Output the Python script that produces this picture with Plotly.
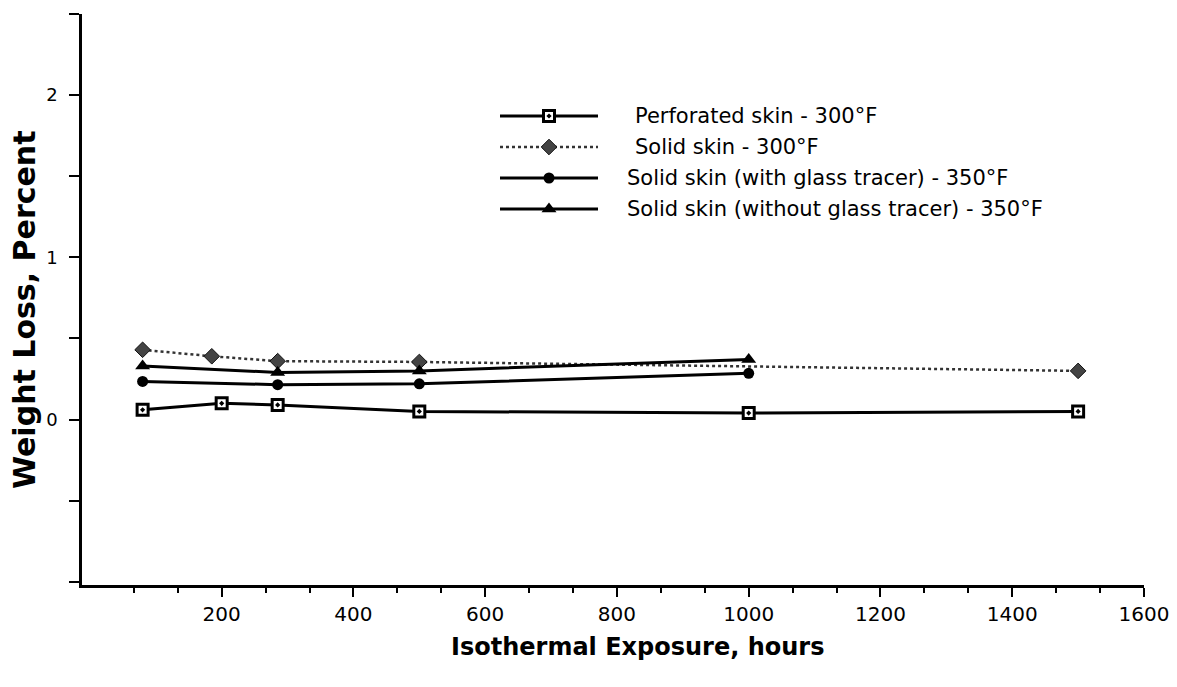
import plotly.graph_objects as go

# ---------------- data ----------------
hours_perf = [80, 200, 285, 500, 1000, 1500]
loss_perf = [0.06, 0.10, 0.09, 0.05, 0.04, 0.05]

hours_solid300 = [80, 185, 285, 500, 1500]
loss_solid300 = [0.43, 0.39, 0.36, 0.355, 0.30]

hours_glass = [80, 285, 500, 1000]
loss_glass = [0.235, 0.215, 0.22, 0.285]

hours_noglass = [80, 285, 500, 1000]
loss_noglass = [0.33, 0.29, 0.30, 0.37]

series_names = [
    "Perforated skin - 300°F",
    "Solid skin - 300°F",
    "Solid skin (with glass tracer) - 350°F",
    "Solid skin (without glass tracer) - 350°F",
]

x_tick_vals = [200, 400, 600, 800, 1000, 1200, 1400, 1600]
x_tick_text = ["200", "400", "600", "800", "1000", "1200", "1400", "1600"]
y_tick_vals = [-1, -0.5, 0, 0.5, 1, 1.5, 2, 2.5]
y_tick_text = ["", "", "0", "", "1", "", "2", ""]

x_title = "Isothermal Exposure, hours"
y_title = "Weight Loss, Percent"

# ---------------- layout geometry ----------------
FONT = "DejaVu Sans"
W, H = 1177, 687
OFF = 8  # page body margin
# plot area in screen pixels
PX0, PX1, PY0, PY1 = 82, 1144, 14, 585
L = PX0 - OFF
T = PY0 - OFF
R = W - (PX1 - OFF)
B = H - (PY1 - OFF)


def px(xpix):
    return (xpix - PX0) / (PX1 - PX0)


def py(ypix):
    return (PY1 - ypix) / (PY1 - PY0)


styles = [
    dict(line=dict(color="black", width=3),
         marker=dict(symbol="square-dot", size=11, color="white",
                     line=dict(color="black", width=3))),
    dict(line=dict(color="#333333", width=2.5, dash="dot"),
         marker=dict(symbol="diamond", size=12, color="#444444",
                     line=dict(color="#111111", width=1))),
    dict(line=dict(color="black", width=3),
         marker=dict(symbol="circle", size=11, color="black")),
    dict(line=dict(color="black", width=3),
         marker=dict(symbol="triangle-up", size=13, color="black")),
]

xs = [hours_perf, hours_solid300, hours_glass, hours_noglass]
ys = [loss_perf, loss_solid300, loss_glass, loss_noglass]

fig = go.Figure()
for i in range(4):
    fig.add_trace(go.Scatter(x=xs[i], y=ys[i], mode="lines+markers",
                             name=series_names[i], showlegend=False,
                             cliponaxis=False, **styles[i]))

# ---------------- hand-drawn legend on a pixel overlay axis ----------------
leg_rows = [116, 147, 178, 209]
leg_text_x = [633, 633, 625, 625]
for i in range(4):
    yy = leg_rows[i]
    fig.add_trace(go.Scatter(x=[500, 598], y=[yy, yy], mode="lines",
                             line=styles[i]["line"], xaxis="x2", yaxis="y2",
                             showlegend=False, hoverinfo="skip"))
    fig.add_trace(go.Scatter(x=[549], y=[yy], mode="markers",
                             marker=styles[i]["marker"], xaxis="x2", yaxis="y2",
                             showlegend=False, hoverinfo="skip"))
    fig.add_annotation(x=px(leg_text_x[i]), y=py(yy), xref="paper", yref="paper",
                       text=series_names[i], showarrow=False,
                       xanchor="left", yanchor="middle",
                       font=dict(family=FONT, size=21, color="black"))

fig.add_annotation(x=px(24), y=py(310), xref="paper", yref="paper", text=y_title,
                   showarrow=False, textangle=-90, xanchor="center",
                   yanchor="middle",
                   font=dict(family=FONT, size=30, color="black", weight="bold"))
fig.add_annotation(x=px(637), y=py(647), xref="paper", yref="paper", text=x_title,
                   showarrow=False, xanchor="center", yanchor="middle",
                   font=dict(family=FONT, size=24, color="black", weight="bold"))

minor_x = [k * 200 / 3 for k in range(1, 25) if k % 3 != 0]

fig.update_layout(
    width=W, height=H,
    margin=dict(l=L, r=R, t=T, b=B, pad=0),
    paper_bgcolor="white", plot_bgcolor="white",
    showlegend=False,
    font=dict(family=FONT, color="black"),
    xaxis=dict(range=[-12, 1600], showgrid=False, zeroline=False,
               showline=True, linecolor="black", linewidth=2.5,
               ticks="outside", ticklen=9, tickwidth=2, tickcolor="black",
               tickvals=x_tick_vals, ticktext=x_tick_text,
               ticklabelstandoff=0,
               tickfont=dict(family=FONT, size=20, color="black"),
               minor=dict(tickvals=minor_x, ticks="outside", ticklen=5,
                          tickwidth=2, tickcolor="black", showgrid=False)),
    yaxis=dict(range=[-1.02, 2.5], showgrid=False, zeroline=False,
               showline=True, linecolor="black", linewidth=2.5,
               ticks="outside", ticklen=10, tickwidth=2, tickcolor="black",
               tickvals=y_tick_vals, ticktext=y_tick_text,
               ticklabelstandoff=8,
               tickfont=dict(family=FONT, size=18, color="black")),
    xaxis2=dict(range=[PX0, PX1], overlaying="x", visible=False,
                showgrid=False, zeroline=False),
    yaxis2=dict(range=[PY1, PY0], overlaying="y", visible=False,
                showgrid=False, zeroline=False),
)

fig.write_html("out.html")
